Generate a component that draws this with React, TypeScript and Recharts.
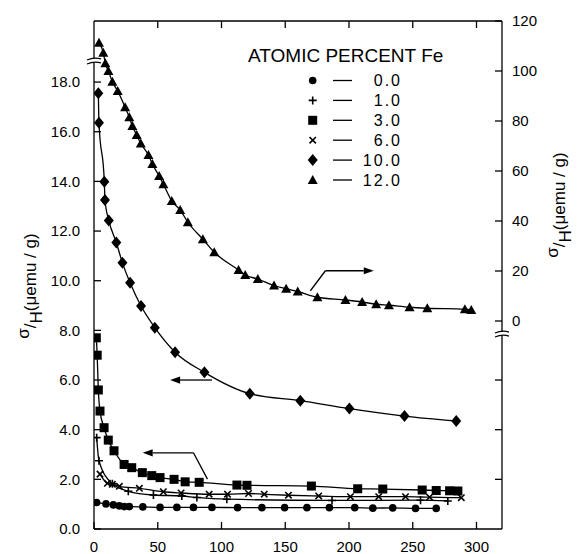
import React from "react";
import {
  LineChart,
  Line,
  XAxis,
  YAxis,
  Legend,
  ReferenceLine,
  ReferenceDot,
} from "recharts";

// sigma/H vs field, one array per Fe concentration (x = H, y = sigma/H)
const fe00 = [
  { x: 2.1, y: 1.07 }, { x: 9.4, y: 1.01 }, { x: 15.2, y: 0.97 }, { x: 19.9, y: 0.93 },
  { x: 23.8, y: 0.9 }, { x: 27.7, y: 0.9 }, { x: 38.3, y: 0.89 }, { x: 51.8, y: 0.87 },
  { x: 65, y: 0.87 }, { x: 78, y: 0.87 }, { x: 92.5, y: 0.87 }, { x: 112.6, y: 0.86 },
  { x: 131.7, y: 0.86 }, { x: 149.5, y: 0.86 }, { x: 167, y: 0.86 }, { x: 184.6, y: 0.86 },
  { x: 204.5, y: 0.86 }, { x: 218.7, y: 0.84 }, { x: 234.3, y: 0.85 }, { x: 252.2, y: 0.83 },
  { x: 268.4, y: 0.83 },
];
const fe10 = [
  { x: 2.1, y: 3.68 }, { x: 3.9, y: 2.75 }, { x: 14.4, y: 1.82 }, { x: 26.9, y: 1.52 },
  { x: 46.6, y: 1.37 }, { x: 68.9, y: 1.33 }, { x: 80.7, y: 1.27 }, { x: 104.2, y: 1.2 },
  { x: 186.7, y: 1.15 }, { x: 256.1, y: 1.16 }, { x: 277.5, y: 1.13 },
];
const fe30 = [
  { x: 1.8, y: 7.7 }, { x: 2.5, y: 7.0 }, { x: 3.4, y: 5.6 }, { x: 4.7, y: 4.75 },
  { x: 7.9, y: 4.08 }, { x: 11.2, y: 3.58 }, { x: 15.7, y: 3.15 }, { x: 23.6, y: 2.6 },
  { x: 29.6, y: 2.47 }, { x: 37.9, y: 2.27 }, { x: 45.3, y: 2.15 }, { x: 51.8, y: 2.07 },
  { x: 62.8, y: 2.0 }, { x: 71.5, y: 1.9 }, { x: 82.5, y: 1.88 }, { x: 112.1, y: 1.77 },
  { x: 120, y: 1.76 }, { x: 170.5, y: 1.73 }, { x: 206.8, y: 1.62 }, { x: 226.5, y: 1.61 },
  { x: 257.4, y: 1.57 }, { x: 268.4, y: 1.55 }, { x: 278.9, y: 1.54 }, { x: 285.4, y: 1.53 },
];
const fe60 = [
  { x: 4.7, y: 2.21 }, { x: 10.5, y: 1.84 }, { x: 14.4, y: 1.8 }, { x: 19.9, y: 1.72 },
  { x: 35.6, y: 1.64 }, { x: 54.4, y: 1.5 }, { x: 68.3, y: 1.45 }, { x: 90.3, y: 1.4 },
  { x: 104.7, y: 1.4 }, { x: 121.2, y: 1.43 }, { x: 133.5, y: 1.4 }, { x: 152.5, y: 1.36 },
  { x: 176.2, y: 1.33 }, { x: 201.1, y: 1.3 }, { x: 223.3, y: 1.3 }, { x: 244.3, y: 1.3 },
  { x: 263.2, y: 1.28 }, { x: 288.1, y: 1.26 },
];
const fe100 = [
  { x: 3.4, y: 17.55 }, { x: 3.9, y: 16.36 }, { x: 8.1, y: 13.99 }, { x: 8.6, y: 13.25 },
  { x: 11.6, y: 12.43 }, { x: 17.5, y: 11.54 }, { x: 22.3, y: 10.72 }, { x: 28.3, y: 9.92 },
  { x: 36.9, y: 8.98 }, { x: 47.7, y: 8.11 }, { x: 63.6, y: 7.12 }, { x: 86.6, y: 6.31 },
  { x: 122.2, y: 5.45 }, { x: 161.8, y: 5.17 }, { x: 200.3, y: 4.85 }, { x: 243.5, y: 4.55 },
  { x: 284.1, y: 4.35 },
];
// 12 % Fe is read on the right-hand scale
const fe120 = [
  { x: 3.9, y: 111.3 }, { x: 7.3, y: 107.3 }, { x: 8.9, y: 103.1 }, { x: 11.3, y: 100 },
  { x: 14.4, y: 95.7 }, { x: 18.6, y: 92 }, { x: 24.4, y: 85.5 }, { x: 27.7, y: 81.5 },
  { x: 30.1, y: 78 }, { x: 33.5, y: 74.4 }, { x: 36.7, y: 71 }, { x: 42.7, y: 66.4 },
  { x: 45.8, y: 62.8 }, { x: 51.1, y: 58 }, { x: 54.4, y: 54.7 }, { x: 61, y: 48 },
  { x: 67.6, y: 44.4 }, { x: 73.6, y: 39.5 }, { x: 85.4, y: 32.7 }, { x: 94.3, y: 27.5 },
  { x: 113.4, y: 20.4 }, { x: 118.6, y: 18.4 }, { x: 128.5, y: 16.8 }, { x: 141.2, y: 14.2 },
  { x: 150.7, y: 12.9 }, { x: 159.8, y: 11.8 }, { x: 175.2, y: 9.5 }, { x: 197.2, y: 8.4 },
  { x: 210.3, y: 7.6 }, { x: 221.3, y: 6.7 }, { x: 231.3, y: 6.3 }, { x: 247.5, y: 5.5 },
  { x: 261.4, y: 5.1 }, { x: 290.9, y: 4.7 }, { x: 295.9, y: 4.4 },
];

const xTicks = [0, 50, 100, 150, 200, 250, 300];
const topTicks = [50, 100, 150, 200, 250, 300];
const leftTicks = [0, 2, 4, 6, 8, 10, 12, 14, 16, 18];
const rightTicks = [0, 20, 40, 60, 80, 100, 120];
const rightLowTicks = [2, 4, 6]; // unlabeled, in left-scale units

const X_DOMAIN = [0, 320];
const LEFT_DOMAIN = [0, 20.46];
const RIGHT_DOMAIN = [-83.2, 120];

const leftToRight = (v: number) =>
  RIGHT_DOMAIN[0] +
  ((v - LEFT_DOMAIN[0]) * (RIGHT_DOMAIN[1] - RIGHT_DOMAIN[0])) /
    (LEFT_DOMAIN[1] - LEFT_DOMAIN[0]);

const FONT = '"Liberation Sans", Arial, sans-serif';
const INK = "#000";

type Marker = "circle" | "plus" | "square" | "cross" | "diamond" | "triangle";

const Symbol = ({ cx, cy, kind }: { cx: number; cy: number; kind: Marker }) => {
  switch (kind) {
    case "circle":
      return <circle cx={cx} cy={cy} r={3.8} fill={INK} />;
    case "plus":
      return (
        <path d={`M${cx - 4},${cy}H${cx + 4}M${cx},${cy - 4}V${cy + 4}`} stroke={INK} strokeWidth={1.6} />
      );
    case "square":
      return <rect x={cx - 4.5} y={cy - 4.5} width={9} height={9} fill={INK} />;
    case "cross":
      return (
        <path
          d={`M${cx - 3.2},${cy - 3.2}L${cx + 3.2},${cy + 3.2}M${cx - 3.2},${cy + 3.2}L${cx + 3.2},${cy - 3.2}`}
          stroke={INK}
          strokeWidth={1.6}
        />
      );
    case "diamond":
      return <polygon points={`${cx},${cy - 6} ${cx + 5},${cy} ${cx},${cy + 6} ${cx - 5},${cy}`} fill={INK} />;
    default:
      return <polygon points={`${cx},${cy - 5} ${cx + 5},${cy + 4} ${cx - 5},${cy + 4}`} fill={INK} />;
  }
};

const SERIES: { name: string; data: { x: number; y: number }[]; marker: Marker; axis: string }[] = [
  { name: "0.0", data: fe00, marker: "circle", axis: "left" },
  { name: "1.0", data: fe10, marker: "plus", axis: "left" },
  { name: "3.0", data: fe30, marker: "square", axis: "left" },
  { name: "6.0", data: fe60, marker: "cross", axis: "left" },
  { name: "10.0", data: fe100, marker: "diamond", axis: "left" },
  { name: "12.0", data: fe120, marker: "triangle", axis: "right" },
];

// arrows pointing each family to its scale, in data units
const arrowToRight = [
  { x: 169.7, y: 12.1 },
  { x: 181.5, y: 20.1 },
  { x: 219.4, y: 20.1 },
];
const arrowFe10 = [
  { x: 92.5, y: 6.0 },
  { x: 59.7, y: 6.0 },
];
const arrowLow = [
  { x: 89, y: 2.01 },
  { x: 78, y: 3.07 },
  { x: 38.2, y: 3.07 },
];

const arrowShape = (head: boolean) => (p: any) => {
  const { x1, y1, x2, y2 } = p;
  const a = Math.atan2(y2 - y1, x2 - x1);
  const L = 10;
  const W = 3.6;
  const bx = x2 - L * Math.cos(a);
  const by = y2 - L * Math.sin(a);
  const nx = -Math.sin(a) * W;
  const ny = Math.cos(a) * W;
  return (
    <g>
      <line x1={x1} y1={y1} x2={head ? bx : x2} y2={head ? by : y2} stroke={INK} strokeWidth={1.3} />
      {head && <polygon points={`${x2},${y2} ${bx + nx},${by + ny} ${bx - nx},${by - ny}`} fill={INK} />}
    </g>
  );
};

const arrowSegments = (pts: { x: number; y: number }[], axis: string, id: string) =>
  pts.slice(1).map((p, i) => (
    <ReferenceLine
      key={`${id}-${i}`}
      xAxisId="bottom"
      yAxisId={axis}
      segment={[pts[i], p]}
      shape={arrowShape(i === pts.length - 2)}
    />
  ));

// axis break mark
const BreakMark = (p: any) => {
  const { cx, cy } = p;
  return (
    <g>
      <rect x={cx - 2} y={cy - 2} width={4} height={4} fill="#fff" />
      <path
        d={`M${cx - 7},${cy - 1} Q${cx},${cy - 4} ${cx + 7},${cy - 2} M${cx - 7},${cy + 3} Q${cx},${cy} ${cx + 7},${cy + 2}`}
        stroke={INK}
        strokeWidth={1.3}
        fill="none"
      />
    </g>
  );
};

const LegendBox = ({ payload }: any) => {
  const items = [...(payload || [])].sort(
    (a: any, b: any) =>
      SERIES.findIndex((s) => s.name === a.value) - SERIES.findIndex((s) => s.name === b.value)
  );
  return (
    <svg width={220} height={150} style={{ fontFamily: FONT }}>
      <text x={8} y={22} fontSize={19} fill={INK}>
        ATOMIC PERCENT Fe
      </text>
      {items.map((e: any, i: number) => {
        const s = SERIES.find((d) => d.name === e.value);
        const cy = 40.5 + i * 19.9;
        return (
          <g key={e.value}>
            <Symbol cx={72.7} cy={cy} kind={s ? s.marker : "circle"} />
            <line x1={93} y1={cy} x2={112} y2={cy} stroke={INK} strokeWidth={1.3} />
            <text x={162} y={cy + 5.5} fontSize={16} textAnchor="end" letterSpacing={2} fill={INK}>
              {e.value}
            </text>
          </g>
        );
      })}
    </svg>
  );
};

const AxisTitle = ({ cx, cy }: { cx: number; cy: number }) => (
  <text
    x={cx}
    y={cy}
    transform={`rotate(-90, ${cx}, ${cy})`}
    textAnchor="middle"
    fontSize={17}
    fontFamily={FONT}
    fill={INK}
  >
    <tspan dy={-7} fontSize={17}>σ</tspan>
    <tspan dy={7}>/</tspan>
    <tspan dy={6}>H</tspan>
    <tspan dy={-6}>(μemu / g)</tspan>
  </text>
);

const tickStyle = { fill: INK, fontSize: 15, fontFamily: FONT };
const lineStyle = { stroke: INK, strokeWidth: 1.3 };

export default function App() {
  return (
    <div style={{ position: "absolute", left: 0, top: 0, width: 579, height: 554, background: "#fff" }}>
      <LineChart width={579} height={554} margin={{ top: 20, right: 0, bottom: 0, left: 0 }}>
        <XAxis
          xAxisId="bottom"
          type="number"
          dataKey="x"
          domain={X_DOMAIN}
          ticks={xTicks}
          allowDataOverflow
          height={25}
          tickSize={-7}
          tickMargin={19}
          tick={tickStyle}
          axisLine={lineStyle}
          tickLine={lineStyle}
        />
        <XAxis
          xAxisId="top"
          orientation="top"
          type="number"
          dataKey="x"
          domain={X_DOMAIN}
          ticks={topTicks}
          allowDataOverflow
          height={1}
          tickSize={-7}
          tickFormatter={() => ""}
          axisLine={lineStyle}
          tickLine={lineStyle}
        />
        <YAxis
          yAxisId="left"
          type="number"
          domain={LEFT_DOMAIN}
          ticks={leftTicks}
          allowDataOverflow
          width={94}
          tickSize={-7}
          tickMargin={21}
          tick={tickStyle}
          tickFormatter={(v: number) => v.toFixed(1)}
          axisLine={lineStyle}
          tickLine={lineStyle}
          label={{ content: () => <AxisTitle cx={36} cy={286} /> }}
        />
        <YAxis
          yAxisId="right"
          orientation="right"
          type="number"
          domain={RIGHT_DOMAIN}
          ticks={[...rightLowTicks.map(leftToRight), ...rightTicks]}
          allowDataOverflow
          width={77}
          tickSize={-7}
          tickMargin={17}
          tick={tickStyle}
          tickFormatter={(v: number) => (v < -0.01 ? "" : String(v))}
          axisLine={lineStyle}
          tickLine={lineStyle}
          label={{ content: () => <AxisTitle cx={565} cy={205} /> }}
        />
        {SERIES.map((s) => (
          <Line
            key={s.name}
            name={s.name}
            data={s.data}
            dataKey="y"
            xAxisId="bottom"
            yAxisId={s.axis}
            type="monotone"
            stroke={INK}
            strokeWidth={1.3}
            dot={(p: any) => <Symbol key={`${s.name}-${p.index}`} cx={p.cx} cy={p.cy} kind={s.marker} />}
            activeDot={false}
            isAnimationActive={false}
          />
        ))}
        {arrowSegments(arrowToRight, "right", "ar")}
        {arrowSegments(arrowFe10, "left", "a10")}
        {arrowSegments(arrowLow, "left", "alow")}
        <ReferenceDot xAxisId="bottom" yAxisId="left" x={0} y={18.85} r={0} ifOverflow="visible" shape={BreakMark} />
        <ReferenceDot xAxisId="bottom" yAxisId="right" x={320} y={-5.2} r={0} ifOverflow="visible" shape={BreakMark} />
        <Legend
          layout="horizontal"
          verticalAlign="middle"
          align="center"
          content={<LegendBox />}
          wrapperStyle={{ position: "absolute", left: 240, top: 40, width: 220, height: 150 }}
        />
      </LineChart>
    </div>
  );
}
